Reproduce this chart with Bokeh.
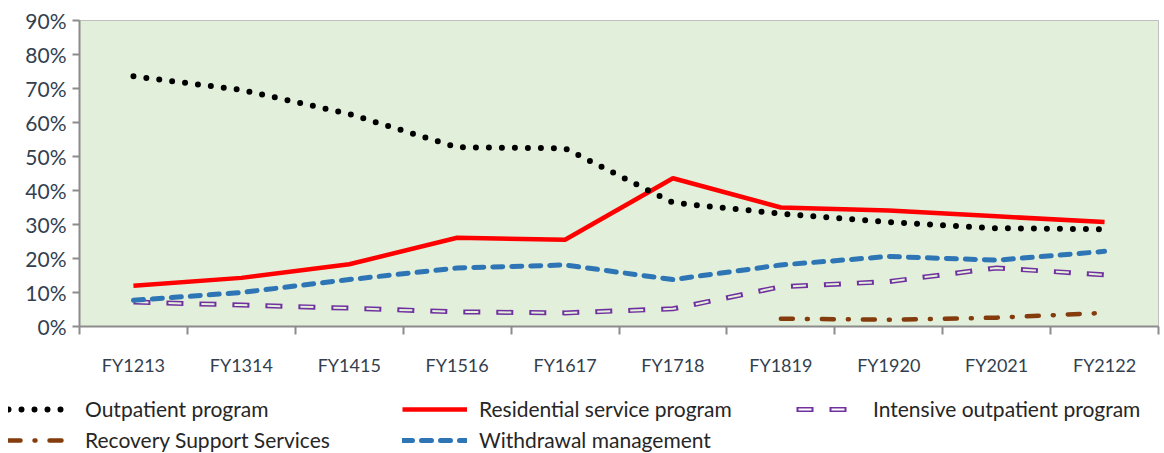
from bokeh.plotting import figure
from bokeh.models import Range1d, FixedTicker, NumeralTickFormatter, Legend, LegendItem, ColumnDataSource
from bokeh.embed import file_html
from bokeh.resources import INLINE

categories = ["FY1213", "FY1314", "FY1415", "FY1516", "FY1617",
              "FY1718", "FY1819", "FY1920", "FY2021", "FY2122"]
outpatient = [0.736, 0.696, 0.625, 0.527, 0.524, 0.364, 0.332, 0.307, 0.289, 0.286]
residential = [0.120, 0.143, 0.183, 0.261, 0.255, 0.436, 0.350, 0.341, 0.324, 0.307]
intensive = [0.072, 0.063, 0.054, 0.043, 0.040, 0.052, 0.117, 0.132, 0.172, 0.152]
recovery_categories = ["FY1819", "FY1920", "FY2021", "FY2122"]
recovery = [0.023, 0.020, 0.026, 0.040]
withdrawal = [0.077, 0.100, 0.138, 0.172, 0.181, 0.138, 0.181, 0.206, 0.195, 0.221]
y_ticks = [0.0, 0.1, 0.2, 0.3, 0.4, 0.5, 0.6, 0.7, 0.8, 0.9]

x = [i + 0.5 for i in range(len(categories))]
x_rec = [categories.index(c) + 0.5 for c in recovery_categories]

BG = "#E2EFDA"
FONT = "Lato"
TXT = "#333F4F"
AX = "#8C8C8C"

STY = dict(
    intensive_outer=dict(line_color="#7030A0", line_width=5, line_dash="17 16"),
    intensive_inner=dict(line_width=2, line_dash="13 20", line_dash_offset=31),
    recovery=dict(line_color="#843C0C", line_width=4.5, line_dash="12 14 1 14", line_cap="round"),
    withdrawal=dict(line_color="#2E75B6", line_width=5, line_dash="10 9", line_cap="round"),
    residential=dict(line_color="#FF0000", line_width=4.5),
    outpatient=dict(line_color="black", line_width=6, line_dash="0 13", line_cap="round"),
)

p = figure(width=1162, height=378, output_backend="svg", toolbar_location=None,
           x_range=Range1d(0, len(categories)), y_range=Range1d(0, 0.9),
           min_border_left=79, min_border_right=4, min_border_top=20, min_border_bottom=44)
p.background_fill_color = BG
p.border_fill_color = "white"
p.outline_line_color = "#BFBFBF"
p.xgrid.visible = False
p.ygrid.visible = False

# x axis: labels at centres, tick marks at boundaries
p.xaxis.ticker = FixedTicker(ticks=x, minor_ticks=list(range(len(categories) + 1)))
p.xaxis.major_label_overrides = {xi: c for xi, c in zip(x, categories)}
p.xaxis.major_tick_out = 0
p.xaxis.major_tick_in = 0
p.xaxis.minor_tick_out = 8
p.xaxis.minor_tick_in = 0
p.xaxis.minor_tick_line_color = AX
p.xaxis.minor_tick_line_width = 2
p.xaxis.axis_line_color = AX
p.xaxis.axis_line_width = 2
p.xaxis.major_label_text_font = FONT
p.xaxis.major_label_text_font_size = "18px"
p.xaxis.major_label_text_color = TXT
p.xaxis.major_label_standoff = 19

p.yaxis.ticker = FixedTicker(ticks=y_ticks)
p.yaxis.formatter = NumeralTickFormatter(format="0%")
p.yaxis.major_tick_out = 7
p.yaxis.major_tick_in = 0
p.yaxis.minor_tick_out = 0
p.yaxis.minor_tick_in = 0
p.yaxis.major_tick_line_color = AX
p.yaxis.major_tick_line_width = 2
p.yaxis.axis_line_color = AX
p.yaxis.axis_line_width = 2
p.yaxis.major_label_text_font = FONT
p.yaxis.major_label_text_font_size = "21px"
p.yaxis.major_label_text_color = TXT
p.yaxis.major_label_standoff = 6

src = ColumnDataSource(dict(x=x, outpatient=outpatient, residential=residential,
                            intensive=intensive, withdrawal=withdrawal))
src_rec = ColumnDataSource(dict(x=x_rec, recovery=recovery))

p.line("x", "intensive", source=src, **STY["intensive_outer"])
p.line("x", "intensive", source=src, line_color=BG, **STY["intensive_inner"])
p.line("x", "recovery", source=src_rec, **STY["recovery"])
p.line("x", "withdrawal", source=src, **STY["withdrawal"])
p.line("x", "residential", source=src, **STY["residential"])
p.line("x", "outpatient", source=src, **STY["outpatient"])

# legend figure (separate root, placed under the chart)
lg = figure(width=1162, height=75, output_backend="svg", toolbar_location=None,
            x_range=Range1d(0, 1), y_range=Range1d(0, 1),
            min_border_left=0, min_border_right=0, min_border_top=0, min_border_bottom=0)
lg.axis.visible = False
lg.grid.visible = False
lg.outline_line_color = None
lg.background_fill_color = "white"
dummy = ColumnDataSource(dict(x=[float("nan")], y=[float("nan")]))
e_out = lg.line("x", "y", source=dummy, **STY["outpatient"])
e_res = lg.line("x", "y", source=dummy, **STY["residential"])
e_int_o = lg.line("x", "y", source=dummy, **STY["intensive_outer"])
e_int_i = lg.line("x", "y", source=dummy, line_color="white", **STY["intensive_inner"])
e_rec = lg.line("x", "y", source=dummy, **STY["recovery"])
e_wd = lg.line("x", "y", source=dummy, **STY["withdrawal"])

legend = Legend(items=[
    LegendItem(label="Outpatient program", renderers=[e_out]),
    LegendItem(label="Residential service program", renderers=[e_res]),
    LegendItem(label="Intensive outpatient program", renderers=[e_int_o, e_int_i]),
    LegendItem(label="Recovery Support Services", renderers=[e_rec]),
    LegendItem(label="Withdrawal management", renderers=[e_wd]),
], ncols=3, orientation="horizontal", location=(8, 1))
legend.glyph_width = 65
legend.glyph_height = 22
legend.label_standoff = 12
legend.label_width = 311
legend.label_height = 22
legend.spacing = 6
legend.padding = 0
legend.margin = 0
legend.label_text_font = FONT
legend.label_text_font_size = "21px"
legend.label_text_color = "#262626"
legend.background_fill_alpha = 0
legend.border_line_alpha = 0
lg.add_layout(legend, "center")

open("out.html", "w").write(file_html([p, lg], INLINE))
